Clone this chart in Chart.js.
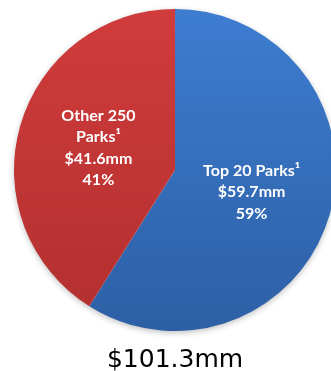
<!DOCTYPE html>
<html>
<head>
<meta charset="utf-8">
<script src="https://cdn.jsdelivr.net/npm/chart.js@4/dist/chart.umd.min.js"></script>
<style>
  html, body { margin: 0; padding: 0; background: #ffffff; overflow: hidden; }
  #wrap { position: relative; width: 340px; height: 371px; }
</style>
</head>
<body>
<div id="wrap"><canvas id="pie"></canvas></div>
<script>
// Revenue split by park group (US$ millions)
const categories = ['Top 20 Parks', 'Other 250 Parks'];
const labelLines = [['Top 20 Parks\u00B9'], ['Other 250', 'Parks\u00B9']];
const values = [59.7, 41.6];
const topColors = ['#3d7dd0', '#d03c3b'];
const bottomColors = ['#2d5fa5', '#b22f2f'];

const total = values.reduce((a, b) => a + b, 0);

function sliceFill(ctx) {
  const chart = ctx.chart;
  const area = chart.chartArea;
  if (!area) return topColors[ctx.dataIndex];
  const g = chart.ctx.createLinearGradient(0, area.top, 0, area.bottom);
  g.addColorStop(0, topColors[ctx.dataIndex]);
  g.addColorStop(1, bottomColors[ctx.dataIndex]);
  return g;
}

// soft shadow under the whole pie
const pieShadow = {
  id: 'pieShadow',
  beforeDatasetsDraw(chart) {
    const arc = chart.getDatasetMeta(0).data[0];
    if (!arc) return;
    const c = chart.ctx;
    c.save();
    c.shadowColor = 'rgba(0,0,0,0.28)';
    c.shadowBlur = 6;
    c.shadowOffsetY = 2;
    c.fillStyle = '#ffffff';
    c.beginPath();
    c.arc(arc.x, arc.y, arc.outerRadius - 0.5, 0, Math.PI * 2);
    c.fill();
    c.restore();
  }
};

// slice captions and the total underneath
const sliceCaptions = {
  id: 'sliceCaptions',
  afterDatasetsDraw(chart) {
    const c = chart.ctx;
    const meta = chart.getDatasetMeta(0);
    c.save();
    c.fillStyle = '#ffffff';
    c.textAlign = 'center';
    c.textBaseline = 'middle';
    c.font = 'bold 16px Lato';
    const lh = 21.5;
    meta.data.forEach((arc, i) => {
      const mid = (arc.startAngle + arc.endAngle) / 2;
      const r = arc.outerRadius * 0.495;
      const x = arc.x + Math.cos(mid) * r;
      const y = arc.y + Math.sin(mid) * r;
      const lines = labelLines[i].concat([
        '$' + values[i].toFixed(1) + 'mm',
        Math.round(values[i] / total * 100) + '%'
      ]);
      const y0 = y - (lines.length - 1) * lh / 2;
      lines.forEach((t, k) => c.fillText(t, x, y0 + k * lh));
    });
    const arc0 = meta.data[0];
    c.fillStyle = '#000000';
    c.font = '500 25px "DejaVu Sans"';
    c.textBaseline = 'alphabetic';
    c.fillText('$' + total.toFixed(1) + 'mm', arc0.x, 367);
    c.restore();
  }
};

new Chart(document.getElementById('pie'), {
  type: 'pie',
  data: {
    labels: categories,
    datasets: [{
      data: values,
      backgroundColor: sliceFill,
      borderWidth: 0,
      hoverOffset: 0,
      offset: 0
    }]
  },
  options: {
    responsive: true,
    maintainAspectRatio: false,
    animation: false,
    layout: { padding: { left: 14, top: 9, right: 4, bottom: 40 } },
    plugins: {
      legend: { display: false },
      tooltip: { enabled: false },
      title: { display: false }
    }
  },
  plugins: [pieShadow, sliceCaptions]
});
</script>
</body>
</html>
